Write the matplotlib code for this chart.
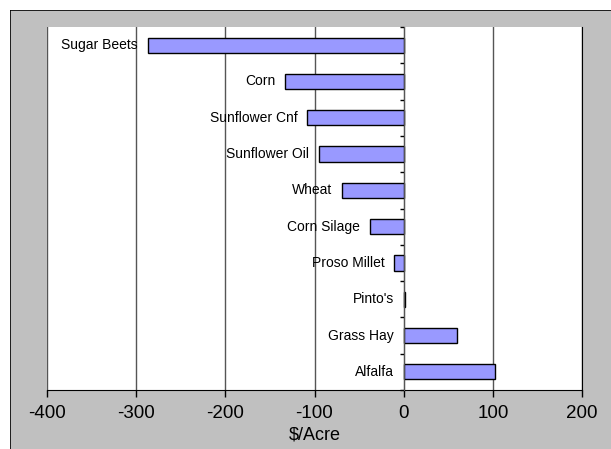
import numpy as np
import matplotlib.pyplot as plt
from matplotlib.patches import Rectangle
from matplotlib.lines import Line2D

plt.rcParams['font.family'] = ['Liberation Sans', 'DejaVu Sans']
plt.rcParams['axes.unicode_minus'] = False

# Данные
crops = ['Sugar Beets', 'Corn', 'Sunflower Cnf', 'Sunflower Oil', 'Wheat',
         'Corn Silage', 'Proso Millet', "Pinto's", 'Grass Hay', 'Alfalfa']
values = [-287, -133, -108, -95, -69, -38, -10.5, 1.5, 60, 102]

fig = plt.figure(figsize=(6.11, 4.49), dpi=100)
fig.patch.set_facecolor('#c0c0c0')
fig.patch.set_edgecolor('none')
# белые поля сверху и слева, рамка только сверху и слева
x0, y1 = 10 / 611, 1 - 10 / 449
fig.patches.append(Rectangle((0, y1), 1, 1 - y1, transform=fig.transFigure,
                             facecolor='white', edgecolor='none', zorder=-1))
fig.patches.append(Rectangle((0, 0), x0, 1, transform=fig.transFigure,
                             facecolor='white', edgecolor='none', zorder=-1))
fig.lines.append(Line2D([x0, x0, 1], [0, y1, y1], transform=fig.transFigure,
                        color='black', linewidth=1.2, zorder=-1))

ax = fig.add_axes([47 / 611, (449 - 390) / 449, (582 - 47) / 611, (390 - 27) / 449])
ax.set_facecolor('white')

y = np.arange(len(crops))
bars = ax.barh(y, values, height=0.42, color='#9999ff', edgecolor='black', linewidth=1, zorder=3)

for yi, v, name in zip(y, values, crops):
    ax.annotate(name, xy=(min(v, 0), yi), xytext=(-7, 0), textcoords='offset points',
                ha='right', va='center', fontsize=10, zorder=4)

ax.set_xlim(-400, 200)
ax.set_ylim(len(crops) - 0.5, -0.5)
ax.set_xticks(np.arange(-400, 201, 100))
ax.tick_params(axis='x', direction='out', length=5, width=1, labelsize=13.5, pad=6)
ax.xaxis.grid(True, color='#555555', linewidth=1, zorder=1)
ax.set_xlabel('$/Acre', fontsize=13, labelpad=3)

# ось Y в нуле
ax.spines['left'].set_position(('data', 0))
ax.spines['left'].set_color('#555555')
ax.spines['left'].set_zorder(5)
ax.set_yticks(np.arange(-0.5, len(crops) + 0.5, 1))
ax.set_yticklabels([])
ax.tick_params(axis='y', direction='out', length=3, width=1)
ax.spines['top'].set_visible(False)
ax.spines['right'].set_color('black')
ax.spines['bottom'].set_color('black')

plt.savefig('out.png', dpi=100)
